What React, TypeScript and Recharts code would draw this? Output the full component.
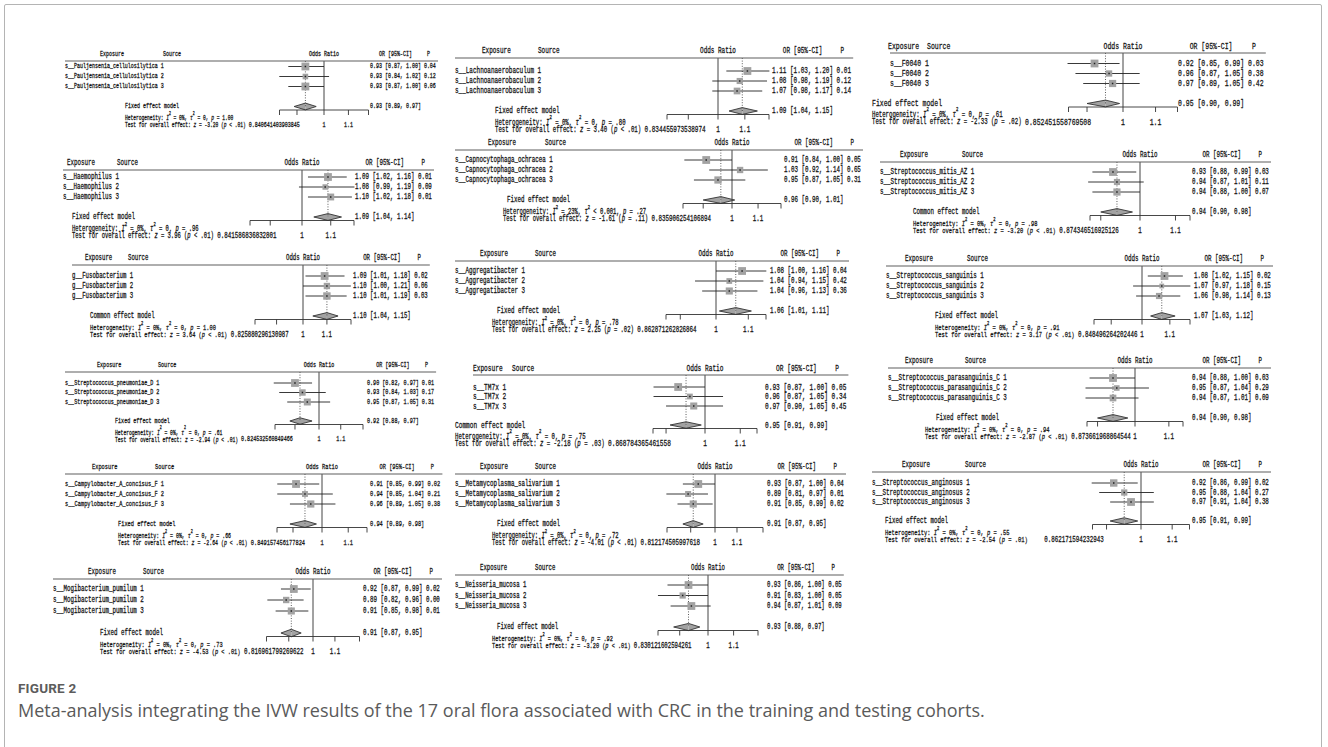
import React from 'react';
import { ComposedChart, XAxis, YAxis, Scatter, ReferenceLine, ReferenceArea } from 'recharts';

const PAGE_W = 1328;
const PAGE_H = 747;

// ---------- data ----------
const exposures = [
  's__Pauljensenia_cellulosilytica',
  's__Lachnoanaerobaculum',
  's__F0040',
  's__Haemophilus',
  's__Capnocytophaga_ochracea',
  's__Streptococcus_mitis_AZ',
  'g__Fusobacterium',
  's__Aggregatibacter',
  's__Streptococcus_sanguinis',
  's__Streptococcus_pneumoniae_D',
  's__TM7x',
  's__Streptococcus_parasanguinis_C',
  's__Campylobacter_A_concisus_F',
  's__Metamycoplasma_salivarium',
  's__Streptococcus_anginosus',
  's__Mogibacterium_pumilum',
  's__Neisseria_mucosa',
];

const studyOR = [
  [0.93, 0.93, 0.93], [1.11, 1.08, 1.07], [0.92, 0.96, 0.97],
  [1.09, 1.08, 1.10], [0.91, 1.03, 0.95], [0.93, 0.94, 0.94],
  [1.09, 1.10, 1.10], [1.08, 1.04, 1.04], [1.08, 1.07, 1.06],
  [0.90, 0.93, 0.95], [0.93, 0.96, 0.97], [0.94, 0.95, 0.94],
  [0.91, 0.94, 0.96], [0.93, 0.89, 0.91], [0.92, 0.95, 0.97],
  [0.92, 0.89, 0.91], [0.93, 0.91, 0.94],
];
const studyLower = [
  [0.87, 0.84, 0.87], [1.03, 0.98, 0.98], [0.85, 0.87, 0.89],
  [1.02, 0.99, 1.02], [0.84, 0.92, 0.87], [0.88, 0.87, 0.88],
  [1.01, 1.00, 1.01], [1.00, 0.94, 0.96], [1.02, 0.97, 0.98],
  [0.82, 0.84, 0.87], [0.87, 0.87, 0.90], [0.88, 0.87, 0.87],
  [0.85, 0.85, 0.89], [0.87, 0.81, 0.85], [0.86, 0.88, 0.91],
  [0.87, 0.82, 0.85], [0.86, 0.83, 0.87],
];
const studyUpper = [
  [1.00, 1.02, 1.00], [1.20, 1.19, 1.17], [0.99, 1.05, 1.05],
  [1.16, 1.19, 1.18], [1.00, 1.14, 1.05], [0.99, 1.01, 1.00],
  [1.18, 1.21, 1.19], [1.16, 1.15, 1.13], [1.15, 1.18, 1.14],
  [0.97, 1.03, 1.05], [1.00, 1.05, 1.05], [1.00, 1.04, 1.01],
  [0.99, 1.04, 1.05], [1.00, 0.97, 0.99], [0.99, 1.04, 1.04],
  [0.99, 0.96, 0.98], [1.00, 1.00, 1.01],
];
const studyP = [
  [0.04, 0.12, 0.06], [0.01, 0.12, 0.14], [0.03, 0.38, 0.42],
  [0.01, 0.09, 0.01], [0.05, 0.65, 0.31], [0.03, 0.11, 0.07],
  [0.02, 0.06, 0.03], [0.04, 0.42, 0.36], [0.02, 0.15, 0.13],
  [0.01, 0.17, 0.31], [0.05, 0.34, 0.45], [0.03, 0.29, 0.09],
  [0.02, 0.21, 0.38], [0.04, 0.01, 0.02], [0.02, 0.27, 0.38],
  [0.02, 0.00, 0.01], [0.05, 0.05, 0.09],
];

const pooledOR = [0.93, 1.09, 0.95, 1.09, 0.96, 0.94, 1.10, 1.06, 1.07, 0.92, 0.95, 0.94, 0.94, 0.91, 0.95, 0.91, 0.93];
const pooledLower = [0.89, 1.04, 0.90, 1.04, 0.90, 0.90, 1.04, 1.01, 1.03, 0.88, 0.91, 0.90, 0.89, 0.87, 0.91, 0.87, 0.88];
const pooledUpper = [0.97, 1.15, 0.99, 1.14, 1.01, 0.98, 1.15, 1.11, 1.12, 0.97, 0.99, 0.98, 0.98, 0.95, 0.99, 0.95, 0.97];

const modelNames = [
  'Fixed effect model', 'Fixed effect model', 'Fixed effect model',
  'Fixed effect model', 'Fixed effect model', 'Common effect model',
  'Common effect model', 'Fixed effect model', 'Fixed effect model',
  'Fixed effect model', 'Common effect model', 'Fixed effect model',
  'Fixed effect model', 'Fixed effect model', 'Fixed effect model',
  'Fixed effect model', 'Fixed effect model',
];

const hetI2 = ['0%', '0%', '0%', '0%', '23%', '0%', '0%', '0%', '0%', '0%', '0%', '0%', '0%', '0%', '0%', '0%', '0%'];
const hetTau2 = ['= 0', '= 0', '= 0', '= 0', '< 0.001', '= 0', '= 0', '= 0', '= 0', '= 0', '= 0', '= 0', '= 0', '= 0', '= 0', '= 0', '= 0'];
const hetP = ['= 1.00', '= .80', '= .61', '= .96', '= .27', '= .98', '= 1.00', '= .78', '= .91', '= .61', '= .75', '= .94', '= .66', '= .72', '= .55', '= .73', '= .92'];
const zValues = ['-3.20', '3.40', '-2.33', '3.96', '-1.61', '-3.20', '3.64', '2.25', '3.17', '-2.94', '-2.18', '-2.87', '-2.64', '-4.01', '-2.54', '-4.53', '-3.20'];
const zPValues = ['< .01', '< .01', '= .02', '< .01', '= .11', '< .01', '< .01', '= .02', '< .01', '< .01', '= .03', '< .01', '< .01', '< .01', '= .01', '< .01', '< .01'];

// lower x limit of each forest (the upper limit is its reciprocal)
const axisMin = [
  0.840641403903845, 0.834455973538974, 0.852451558769508,
  0.841586836832801, 0.835906254106894, 0.874346516925126,
  0.825880296130987, 0.862871262826864, 0.848496264202446,
  0.824532560849466, 0.868784365461558, 0.873661968864544,
  0.849157456177824, 0.812174505997618, 0.862171594232943,
  0.816961799269622, 0.830121602594261,
];

const captionTitle = 'FIGURE 2';
const captionText = 'Meta-analysis integrating the IVW results of the 17 oral flora associated with CRC in the training and testing cohorts.';

// ---------- layout of each forest panel on the page ----------
// L: study labels, ex/sx: header words, c/h: x of OR = 1 and half width of the forest,
// orX: estimate column, mX: model label, tX: heterogeneity/test lines,
// yH: header line, r1: first study row, ys: row pitch, cw/cwT: character widths
const panelLayout = [
  { L: 65, ex: 100, sx: 163, c: 324, h: 44.5, orX: 370, mX: 125, tX: 125, yH: 54, r1: 66.5, ys: 10, cw: 3.0, cwT: 2.75, gap: 0 },
  { L: 455, ex: 482, sx: 538, c: 718, h: 51, orX: 772, mX: 495, tX: 495, yH: 51, r1: 71, ys: 10, cw: 3.6, cwT: 3.4, gap: 0 },
  { L: 890, ex: 888, sx: 927, c: 1123, h: 54.5, orX: 1178, mX: 872, tX: 872, yH: 46, r1: 63.5, ys: 10, cw: 3.9, cwT: 3.4, gap: 0 },
  { L: 63, ex: 67, sx: 117, c: 302, h: 52, orX: 355, mX: 72, tX: 72, yH: 163, r1: 177, ys: 10, cw: 3.5, cwT: 3.3, gap: 0 },
  { L: 455, ex: 488, sx: 545, c: 732, h: 49, orX: 784, mX: 507, tX: 503, yH: 143, r1: 160, ys: 10, cw: 3.5, cwT: 3.3, gap: 0 },
  { L: 880, ex: 900, sx: 962, c: 1140, h: 50, orX: 1192, mX: 913, tX: 913, yH: 155, r1: 172, ys: 10, cw: 3.5, cwT: 3.25, gap: 0 },
  { L: 72, ex: 85, sx: 128, c: 303, h: 48, orX: 353, mX: 90, tX: 90, yH: 258, r1: 276, ys: 10, cw: 3.4, cwT: 3.2, gap: 0 },
  { L: 455, ex: 480, sx: 535, c: 716, h: 50, orX: 770, mX: 497, tX: 492, yH: 254, r1: 271, ys: 10, cw: 3.5, cwT: 3.3, gap: 0 },
  { L: 886, ex: 905, sx: 967, c: 1142, h: 48, orX: 1194, mX: 935, tX: 935, yH: 259, r1: 276, ys: 10, cw: 3.5, cwT: 3.25, gap: 0 },
  { L: 65, ex: 97, sx: 158, c: 319, h: 44, orX: 367, mX: 115, tX: 115, yH: 365, r1: 383, ys: 9.5, cw: 3.05, cwT: 2.8, gap: 0 },
  { L: 473, ex: 473, sx: 512, c: 705, h: 52, orX: 765, mX: 455, tX: 455, yH: 368, r1: 387, ys: 9.5, cw: 3.7, cwT: 3.4, gap: 0 },
  { L: 888, ex: 905, sx: 965, c: 1135, h: 48, orX: 1192, mX: 936, tX: 925, yH: 361, r1: 378, ys: 10, cw: 3.5, cwT: 3.25, gap: 0 },
  { L: 65, ex: 92, sx: 155, c: 322, h: 45, orX: 370, mX: 118, tX: 118, yH: 467, r1: 484, ys: 10, cw: 3.2, cwT: 2.95, gap: 0 },
  { L: 455, ex: 480, sx: 535, c: 715, h: 48, orX: 767, mX: 497, tX: 492, yH: 467, r1: 484, ys: 10, cw: 3.5, cwT: 3.3, gap: 0 },
  { L: 872, ex: 902, sx: 965, c: 1141, h: 48.5, orX: 1192, mX: 885, tX: 885, yH: 465, r1: 483, ys: 9.5, cw: 3.5, cwT: 3.25, gap: 4 },
  { L: 53, ex: 88, sx: 143, c: 313, h: 46.5, orX: 363, mX: 100, tX: 100, yH: 572, r1: 589, ys: 11, cw: 3.5, cwT: 3.2, gap: 0 },
  { L: 455, ex: 480, sx: 535, c: 708, h: 50, orX: 767, mX: 497, tX: 492, yH: 568, r1: 585, ys: 10.5, cw: 3.4, cwT: 3.15, gap: 0 },
];

const POOLED_ROW = 5;
const INK = '#141414';
const MONO = "'Liberation Mono', 'DejaVu Sans Mono', monospace";
const FS_RATIO = 2.5; // font size relative to character pitch
const INK_STROKE = 0.28;

const f2 = (v: number) => v.toFixed(2);

function geometry(lay: any) {
  const ruleY = lay.yH + 7;
  const axisY = lay.r1 + (POOLED_ROW - 1) * lay.ys + 3.5;
  const d0 = 1 - (lay.r1 - ruleY) / lay.ys;
  const d1 = 1 + (axisY - lay.r1) / lay.ys;
  return { ruleY, axisY, d0, d1, hetY: axisY + 8, testY: axisY + 15 };
}

// narrow monospace text (font size and horizontal squeeze derived from the character pitch)
function T({ x, y, cw, anchor = 'start', children }: any) {
  const fs = cw * FS_RATIO;
  const sx = cw / (0.6 * fs);
  return (
    <text
      transform={`translate(${x},${y}) scale(${sx},1)`}
      fontSize={fs}
      fontFamily={MONO}
      textAnchor={anchor}
      dominantBaseline="central"
      fill={INK}
      stroke={INK}
      strokeWidth={INK_STROKE}
    >
      {children}
    </text>
  );
}

function ForestPanel({ idx }: { idx: number }) {
  const lay = panelLayout[idx];
  const g = geometry(lay);
  const min = axisMin[idx];
  const max = 1 / min;

  const widths = studyLower[idx].map((lo, k) => Math.log(studyUpper[idx][k]) - Math.log(lo));
  const minW = Math.min(...widths);
  const rows = [0, 1, 2].map((k) => ({
    x: studyOR[idx][k],
    y: k + 1,
    lo: studyLower[idx][k],
    hi: studyUpper[idx][k],
    p: studyP[idx][k],
    side: (7.8 * minW) / widths[k],
    label: `${exposures[idx]} ${k + 1}`,
  }));
  const pooled = [{ x: pooledOR[idx], y: POOLED_ROW, lo: pooledLower[idx], hi: pooledUpper[idx] }];

  const studyShape = (props: any) => {
    const { cx, cy, payload } = props;
    const s = payload.side;
    return (
      <g>
        <rect x={cx - s / 2} y={cy - s / 2} width={s} height={s} fill="#a2a2a2" />
        <rect x={cx - 0.75} y={cy - 0.75} width={1.5} height={1.5} fill="#222" />
        <T x={lay.L} y={cy} cw={lay.cw}>{payload.label}</T>
        <T x={lay.orX} y={cy} cw={lay.cw}>
          {`${f2(payload.x)} [${f2(payload.lo)}, ${f2(payload.hi)}] ${f2(payload.p)}`}
        </T>
      </g>
    );
  };

  const pooledShape = (props: any) => {
    const { cy, payload } = props;
    return (
      <g>
        <T x={lay.mX} y={cy} cw={lay.cw}>{modelNames[idx]}</T>
        <T x={lay.orX} y={cy} cw={lay.cw}>{`${f2(payload.x)} [${f2(payload.lo)}, ${f2(payload.hi)}]`}</T>
      </g>
    );
  };

  const diamondLeft = (p: any) => {
    const { x, y, width: w, height: hh } = p;
    return (
      <g>
        <polygon points={`${x},${y + hh / 2} ${x + w},${y} ${x + w},${y + hh}`} fill="#a2a2a2" />
        <polyline points={`${x + w},${y} ${x},${y + hh / 2} ${x + w},${y + hh}`} fill="none" stroke="#333" strokeWidth={0.9} />
      </g>
    );
  };
  const diamondRight = (p: any) => {
    const { x, y, width: w, height: hh } = p;
    return (
      <g>
        <polygon points={`${x},${y} ${x + w},${y + hh / 2} ${x},${y + hh}`} fill="#a2a2a2" />
        <polyline points={`${x},${y} ${x + w},${y + hh / 2} ${x},${y + hh}`} fill="none" stroke="#333" strokeWidth={0.9} />
      </g>
    );
  };

  const axisTick = (p: any) => {
    const v = p.payload.value;
    const lbl = Math.abs(v - 1) < 1e-9 ? '1' : Math.abs(v - 1.1) < 1e-9 ? '1.1' : '';
    return (
      <T x={p.x} y={g.testY} cw={lay.cw} anchor="middle">{lbl}</T>
    );
  };

  return (
    <div style={{ position: 'absolute', left: 0, top: 0 }}>
      <ComposedChart
        width={PAGE_W}
        height={PAGE_H}
        margin={{ top: g.ruleY, left: lay.c - lay.h, right: PAGE_W - (lay.c + lay.h), bottom: PAGE_H - g.axisY - 20 }}
      >
        <XAxis
          type="number"
          dataKey="x"
          scale="log"
          domain={[min, max]}
          ticks={[min, 0.9, 1, 1.1, max]}
          interval={0}
          height={20}
          tickSize={5}
          axisLine={{ stroke: '#333', strokeWidth: 0.9 }}
          tickLine={{ stroke: '#333', strokeWidth: 0.9 }}
          tick={axisTick}
        />
        <YAxis type="number" dataKey="y" domain={[g.d0, g.d1]} reversed hide />
        <ReferenceLine x={1} stroke="#444" strokeWidth={1} />
        <ReferenceLine
          segment={[{ x: pooledOR[idx], y: g.d0 }, { x: pooledOR[idx], y: POOLED_ROW }]}
          stroke="#333"
          strokeWidth={0.8}
          strokeDasharray="1 1.6"
          ifOverflow="visible"
        />
        {rows.map((r) => (
          <ReferenceLine
            key={`ci${r.y}`}
            segment={[{ x: r.lo, y: r.y }, { x: r.hi, y: r.y }]}
            stroke="#222"
            strokeWidth={0.9}
            ifOverflow="visible"
          />
        ))}
        <ReferenceArea
          x1={pooledLower[idx]}
          x2={pooledOR[idx]}
          y1={POOLED_ROW - 0.34}
          y2={POOLED_ROW + 0.34}
          ifOverflow="visible"
          shape={diamondLeft}
        />
        <ReferenceArea
          x1={pooledOR[idx]}
          x2={pooledUpper[idx]}
          y1={POOLED_ROW - 0.34}
          y2={POOLED_ROW + 0.34}
          ifOverflow="visible"
          shape={diamondRight}
        />
        <Scatter data={rows} shape={studyShape} isAnimationActive={false} />
        <Scatter data={pooled} shape={pooledShape} isAnimationActive={false} />
      </ComposedChart>
    </div>
  );
}

// header, rule, heterogeneity and overall-effect lines of one panel
function PanelText({ idx }: { idx: number }) {
  const lay = panelLayout[idx];
  const g = geometry(lay);
  const fsT = lay.cwT * FS_RATIO;
  const sup = lay.cwT * 1.5;
  const testStr = `Test for overall effect: z = ${zValues[idx]} (p ${zPValues[idx]})`;
  const minX = lay.tX + (testStr.length + 1 + lay.gap) * lay.cwT;
  const sxT = lay.cwT / (0.6 * fsT);
  const textProps = {
    fontSize: fsT,
    fontFamily: MONO,
    dominantBaseline: 'central' as const,
    fill: INK,
    stroke: INK,
    strokeWidth: INK_STROKE,
  };
  return (
    <g>
      <T x={lay.ex} y={lay.yH} cw={lay.cw}>Exposure</T>
      <T x={lay.sx} y={lay.yH} cw={lay.cw}>Source</T>
      <T x={lay.c} y={lay.yH} cw={lay.cw} anchor="middle">Odds Ratio</T>
      <T x={lay.orX + 3 * lay.cw} y={lay.yH} cw={lay.cw}>OR [95%-CI]</T>
      <T x={lay.orX + 19.5 * lay.cw} y={lay.yH} cw={lay.cw} anchor="middle">P</T>
      <line x1={lay.L} x2={lay.orX + 22 * lay.cw + 2} y1={g.ruleY} y2={g.ruleY} stroke="#5e5e5e" strokeWidth={1.2} />
      <text transform={`translate(${lay.tX},${g.hetY}) scale(${sxT},1)`} {...textProps}>
        <tspan>{'Heterogeneity: '}</tspan>
        <tspan fontStyle="italic">I</tspan>
        <tspan dy={-sup} fontSize={fsT * 0.7}>2</tspan>
        <tspan dy={sup}>{` = ${hetI2[idx]}, `}</tspan>
        <tspan fontStyle="italic">τ</tspan>
        <tspan dy={-sup} fontSize={fsT * 0.7}>2</tspan>
        <tspan dy={sup}>{` ${hetTau2[idx]}, `}</tspan>
        <tspan fontStyle="italic">p</tspan>
        <tspan>{` ${hetP[idx]}`}</tspan>
      </text>
      <text transform={`translate(${lay.tX},${g.testY}) scale(${sxT},1)`} {...textProps}>
        <tspan>{'Test for overall effect: '}</tspan>
        <tspan fontStyle="italic">z</tspan>
        <tspan>{` = ${zValues[idx]} (`}</tspan>
        <tspan fontStyle="italic">p</tspan>
        <tspan>{` ${zPValues[idx]})`}</tspan>
      </text>
      <T x={minX} y={g.testY} cw={lay.cw}>{String(axisMin[idx])}</T>
    </g>
  );
}

export default function App() {
  const ids = exposures.map((_, i) => i);
  return (
    <div
      style={{
        position: 'absolute',
        left: 0,
        top: 0,
        width: PAGE_W,
        height: PAGE_H,
        overflow: 'hidden',
        background: '#fff',
      }}
    >
      <div
        style={{
          position: 'absolute',
          left: 4,
          top: 4,
          width: 1318,
          height: 780,
          border: '1.5px solid #b4b4b4',
          borderRadius: 2,
          boxSizing: 'border-box',
        }}
      />
      {ids.map((i) => (
        <ForestPanel key={i} idx={i} />
      ))}
      <svg width={PAGE_W} height={PAGE_H} style={{ position: 'absolute', left: 0, top: 0, pointerEvents: 'none' }}>
        {ids.map((i) => (
          <PanelText key={i} idx={i} />
        ))}
      </svg>
      <div
        style={{
          position: 'absolute',
          left: 18,
          top: 680,
          fontFamily: 'Roboto, sans-serif',
          fontWeight: 700,
          fontSize: 13.5,
          lineHeight: '16px',
          color: '#5c5c5c',
          letterSpacing: 0.2,
        }}
      >
        {captionTitle}
      </div>
      <div
        style={{
          position: 'absolute',
          left: 18,
          top: 698,
          fontFamily: "'Open Sans', sans-serif",
          fontSize: 18,
          lineHeight: '24px',
          color: '#5a5a5a',
          whiteSpace: 'nowrap',
        }}
      >
        {captionText}
      </div>
    </div>
  );
}
